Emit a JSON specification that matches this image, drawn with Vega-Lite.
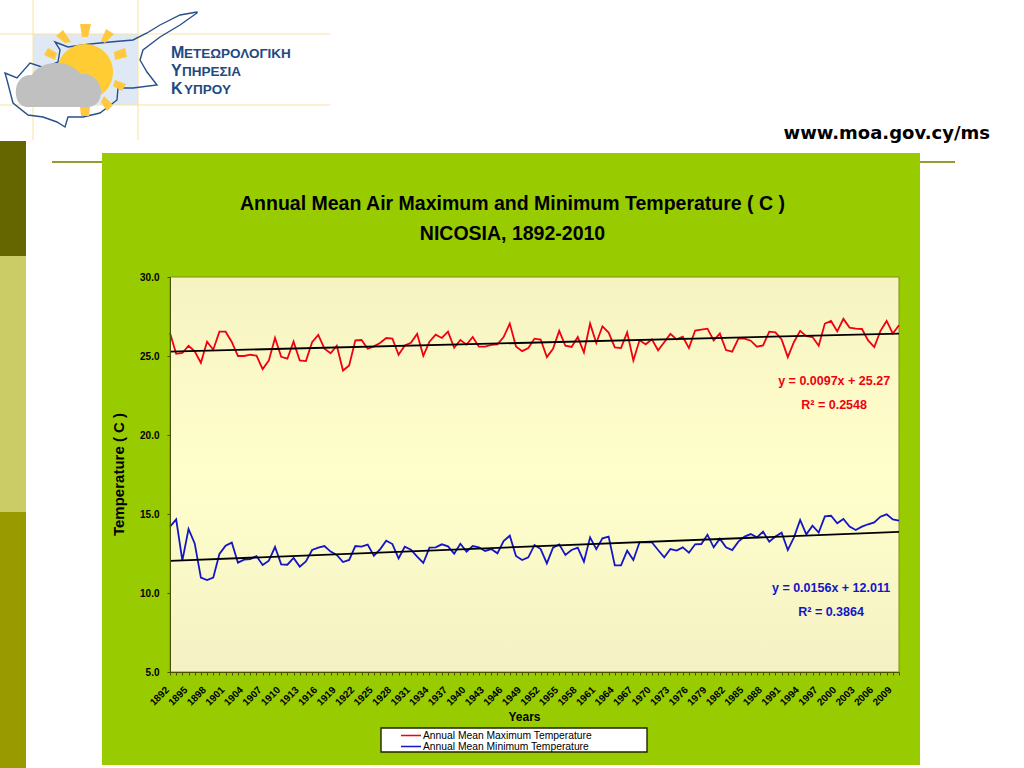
{
  "$schema": "https://vega.github.io/schema/vega-lite/v6.json",
  "width": 729,
  "height": 395,
  "autosize": {"type": "none"},
  "padding": {"left": 170, "top": 277, "right": 125, "bottom": 96},
  "background": "#ffffff",
  "view": {"stroke": null},
  "title": {
    "text": ["Annual Mean Air Maximum and  Minimum Temperature ( C )", "NICOSIA, 1892-2010"],
    "anchor": "middle",
    "frame": "group",
    "font": "Liberation Sans",
    "fontSize": 19.5,
    "fontWeight": "bold",
    "color": "#000000",
    "lineHeight": 30,
    "offset": -247,
    "dx": -22,
    "zindex": 1
  },
  "datasets": {
    "temps": [
      {"year":1892,"max":26.46,"min":14.2},{"year":1893,"max":25.14,"min":14.66},{"year":1894,"max":25.19,"min":12.05},{"year":1895,"max":25.65,"min":14.05},
      {"year":1896,"max":25.29,"min":13.14},{"year":1897,"max":24.57,"min":10.97},{"year":1898,"max":25.91,"min":10.82},{"year":1899,"max":25.4,"min":10.97},
      {"year":1900,"max":26.54,"min":12.47},{"year":1901,"max":26.54,"min":13.0},{"year":1902,"max":25.89,"min":13.19},{"year":1903,"max":25.0,"min":11.92},
      {"year":1904,"max":25.0,"min":12.11},{"year":1905,"max":25.08,"min":12.15},{"year":1906,"max":25.02,"min":12.34},{"year":1907,"max":24.17,"min":11.77},
      {"year":1908,"max":24.72,"min":12.05},{"year":1909,"max":26.14,"min":12.91},{"year":1910,"max":24.95,"min":11.81},{"year":1911,"max":24.83,"min":11.79},
      {"year":1912,"max":25.91,"min":12.22},{"year":1913,"max":24.72,"min":11.67},{"year":1914,"max":24.68,"min":12.0},{"year":1915,"max":25.87,"min":12.72},
      {"year":1916,"max":26.33,"min":12.87},{"year":1917,"max":25.46,"min":12.97},{"year":1918,"max":25.17,"min":12.62},{"year":1919,"max":25.65,"min":12.41},
      {"year":1920,"max":24.08,"min":11.96},{"year":1921,"max":24.4,"min":12.09},{"year":1922,"max":25.99,"min":12.97},{"year":1923,"max":26.01,"min":12.93},
      {"year":1924,"max":25.46,"min":13.06},{"year":1925,"max":25.61,"min":12.36},{"year":1926,"max":25.82,"min":12.76},{"year":1927,"max":26.14,"min":13.31},
      {"year":1928,"max":26.1,"min":13.1},{"year":1929,"max":25.08,"min":12.19},{"year":1930,"max":25.67,"min":12.93},{"year":1931,"max":25.84,"min":12.74},
      {"year":1932,"max":26.4,"min":12.3},{"year":1933,"max":25.01,"min":11.9},{"year":1934,"max":25.91,"min":12.87},{"year":1935,"max":26.35,"min":12.89},
      {"year":1936,"max":26.14,"min":13.08},{"year":1937,"max":26.54,"min":12.95},{"year":1938,"max":25.52,"min":12.49},{"year":1939,"max":26.01,"min":13.12},
      {"year":1940,"max":25.72,"min":12.62},{"year":1941,"max":26.2,"min":12.97},{"year":1942,"max":25.59,"min":12.89},{"year":1943,"max":25.59,"min":12.66},
      {"year":1944,"max":25.7,"min":12.78},{"year":1945,"max":25.74,"min":12.51},{"year":1946,"max":26.2,"min":13.29},{"year":1947,"max":27.05,"min":13.63},
      {"year":1948,"max":25.61,"min":12.34},{"year":1949,"max":25.31,"min":12.09},{"year":1950,"max":25.5,"min":12.26},{"year":1951,"max":26.1,"min":13.04},
      {"year":1952,"max":26.04,"min":12.78},{"year":1953,"max":24.93,"min":11.88},{"year":1954,"max":25.46,"min":12.87},{"year":1955,"max":26.59,"min":13.08},
      {"year":1956,"max":25.65,"min":12.41},{"year":1957,"max":25.57,"min":12.72},{"year":1958,"max":26.2,"min":12.87},{"year":1959,"max":25.23,"min":11.98},
      {"year":1960,"max":27.05,"min":13.52},{"year":1961,"max":25.82,"min":12.78},{"year":1962,"max":26.88,"min":13.46},{"year":1963,"max":26.48,"min":13.57},
      {"year":1964,"max":25.55,"min":11.75},{"year":1965,"max":25.5,"min":11.75},{"year":1966,"max":26.5,"min":12.68},{"year":1967,"max":24.72,"min":12.09},
      {"year":1968,"max":25.99,"min":13.21},{"year":1969,"max":25.74,"min":13.21},{"year":1970,"max":26.05,"min":13.21},{"year":1971,"max":25.36,"min":12.72},
      {"year":1972,"max":25.87,"min":12.26},{"year":1973,"max":26.4,"min":12.78},{"year":1974,"max":26.05,"min":12.68},{"year":1975,"max":26.22,"min":12.89},
      {"year":1976,"max":25.5,"min":12.55},{"year":1977,"max":26.61,"min":13.08},{"year":1978,"max":26.67,"min":13.1},{"year":1979,"max":26.73,"min":13.69},
      {"year":1980,"max":25.99,"min":12.89},{"year":1981,"max":26.42,"min":13.44},{"year":1982,"max":25.38,"min":12.89},{"year":1983,"max":25.27,"min":12.72},
      {"year":1984,"max":26.1,"min":13.25},{"year":1985,"max":26.1,"min":13.57},{"year":1986,"max":25.97,"min":13.73},{"year":1987,"max":25.59,"min":13.52},
      {"year":1988,"max":25.67,"min":13.88},{"year":1989,"max":26.54,"min":13.25},{"year":1990,"max":26.5,"min":13.57},{"year":1991,"max":26.05,"min":13.82},
      {"year":1992,"max":24.93,"min":12.72},{"year":1993,"max":25.89,"min":13.52},{"year":1994,"max":26.59,"min":14.62},{"year":1995,"max":26.25,"min":13.71},
      {"year":1996,"max":26.2,"min":14.26},{"year":1997,"max":25.65,"min":13.82},{"year":1998,"max":27.05,"min":14.85},{"year":1999,"max":27.22,"min":14.89},
      {"year":2000,"max":26.56,"min":14.41},{"year":2001,"max":27.35,"min":14.68},{"year":2002,"max":26.8,"min":14.2},{"year":2003,"max":26.73,"min":13.99},
      {"year":2004,"max":26.71,"min":14.2},{"year":2005,"max":25.99,"min":14.35},{"year":2006,"max":25.57,"min":14.47},{"year":2007,"max":26.59,"min":14.83},
      {"year":2008,"max":27.22,"min":14.98},{"year":2009,"max":26.42,"min":14.66},{"year":2010,"max":26.95,"min":14.58}
    ],
    "trend": [
      {"year":1892,"max":25.28,"min":12.03},
      {"year":2010,"max":26.42,"min":13.87}
    ],
    "one": [{}]
  },
  "layer": [
    {
      "data": {"name": "one"},
      "encoding": {
        "x": {"datum": 1864.483, "scale": {"domain": [1892, 2010], "nice": false, "zero": false}},
        "y": {"datum": 47.532, "scale": {"domain": [5, 30], "nice": false, "zero": false}}
      },
      "layer": [
        {"mark": {"type": "point", "size": 4, "filled": true, "opacity": 1, "color": "#666600", "shape": "M0 141H26V256H0Z"}},
        {"mark": {"type": "point", "size": 4, "filled": true, "opacity": 1, "color": "#CCCC66", "shape": "M0 256H26V512H0Z"}},
        {"mark": {"type": "point", "size": 4, "filled": true, "opacity": 1, "color": "#999900", "shape": "M0 512H26V768H0Z"}},
        {"mark": {"type": "point", "size": 4, "filled": true, "opacity": 1, "color": "#999933", "shape": "M52 161H955V163H52Z"}},
        {"mark": {"type": "point", "size": 4, "filled": true, "opacity": 1, "color": "#99CC00", "shape": "M102 153H920V765H102Z"}},
        {"mark": {"type": "point", "size": 4, "filled": true, "opacity": 1, "color": "#DFE8F5", "shape": "M33 34H138V105H33Z"}},
        {"mark": {"type": "point", "size": 4, "filled": false, "opacity": 1, "color": "#F9E3A0", "strokeWidth": 1, "shape": "M0 34H330M0 105H330M33 0V140M138 0V140"}},
        {"mark": {"type": "point", "size": 4, "filled": false, "opacity": 1, "color": "#27508C", "strokeWidth": 1.4, "shape": "M197 12L180 15L160 25L147 33L133 40L110 42L90 44L68 47L55 42L60 50L58 62L45 68L30 63L17 78L5 73L7 80L13 103L28 115L43 117L57 122L65 127L68 117L83 117L100 113L117 100L118 88L133 88L157 85L147 72L140 60L143 50L160 37L180 25L197 13Z"}},
        {"mark": {"type": "point", "size": 4, "filled": true, "opacity": 1, "color": "#FFCC33", "shape": "M57 72A28 28 0 1 1 113 72A28 28 0 1 1 57 72Z"}},
        {"mark": {"type": "point", "size": 4, "filled": true, "opacity": 1, "color": "#FFC840", "shape": "M80 24L91 24L88 37L82 37ZM106 29L114 34L105 43L101 41ZM114 52L125 48L127 57L115 60ZM115 80L126 84L122 91L113 86ZM104 96L113 105L107 111L101 102ZM80 107L90 107L89 116L81 116ZM63 30L71 42L65 43L56 36ZM48 48L57 53L55 60L44 55Z"}},
        {"mark": {"type": "point", "size": 4, "filled": true, "opacity": 1, "color": "#C0C0C0", "shape": "M28 107C18 107 15 97 16 89C17 80 24 74 32 75C35 68 47 62 58 63C68 63 76 68 80 74C90 72 100 80 101 90C102 100 96 107 88 107Z"}},
        {"mark": {"type": "point", "size": 4, "filled": true, "opacity": 1, "color": "#FFFFFF", "stroke": "#222200", "strokeWidth": 1.4, "shape": "M381 728H647V752H381Z"}}
      ]
    },
    {
      "data": {"name": "one"},
      "mark": {"type": "rect", "stroke": "#7F8F10", "strokeWidth": 1, "fill": {
        "x1": 0, "y1": 0, "x2": 0, "y2": 1, "gradient": "linear",
        "stops": [{"offset": 0, "color": "#F6F3C2"}, {"offset": 0.5, "color": "#FFFFCC"}, {"offset": 1, "color": "#F4F1C4"}]
      }},
      "encoding": {
        "x": {"datum": 1892, "scale": {"domain": [1892, 2010], "nice": false, "zero": false}},
        "x2": {"datum": 2010},
        "y": {"datum": 5, "scale": {"domain": [5, 30], "nice": false, "zero": false}},
        "y2": {"datum": 30}
      }
    },
    {
      "data": {"name": "temps"},
      "encoding": {
        "x": {
          "field": "year",
          "type": "quantitative",
          "title": "Years",
          "scale": {"domain": [1892, 2010], "nice": false, "zero": false},
          "axis": {
            "zindex": 1,
            "grid": false,
            "tickCount": 118,
            "format": "d",
            "labelExpr": "(datum.value - 1892) % 3 == 0 ? datum.value : ''",
            "labelOverlap": false,
            "labelBound": false,
            "labelFlush": false,
            "labelAngle": -45,
            "labelAlign": "right",
            "labelBaseline": "middle",
            "labelPadding": 13,
            "labelOffset": -3,
            "labelFont": "Liberation Sans",
            "labelFontSize": 10,
            "labelFontWeight": "bold",
            "labelColor": "#000000",
            "tickColor": "#4A5000",
            "tickSize": 3,
            "domainColor": "#4A5000",
            "titleFont": "Liberation Sans",
            "titleFontSize": 12,
            "titleFontWeight": "bold",
            "titleColor": "#000000",
            "titleX": 354,
            "titleY": 39
          }
        }
      },
      "layer": [
        {
          "mark": {"type": "line", "strokeWidth": 1.8},
          "encoding": {
            "y": {
              "field": "max",
              "type": "quantitative",
              "title": "Temperature ( C )",
              "scale": {"domain": [5, 30], "nice": false, "zero": false},
              "axis": {
                "zindex": 1,
                "grid": false,
                "values": [5, 10, 15, 20, 25, 30],
                "format": ".1f",
                "labelFont": "Liberation Sans",
                "labelFontSize": 10,
                "labelFontWeight": "bold",
                "labelColor": "#000000",
                "labelPadding": 8,
                "tickColor": "#4A5000",
                "tickSize": 3,
                "domainColor": "#4A5000",
                "titleFont": "Liberation Sans",
                "titleFontSize": 15,
                "titleFontWeight": "bold",
                "titleColor": "#000000",
                "titleX": -44,
                "titleY": 197
              }
            },
            "color": {
              "datum": "Annual Mean  Maximum Temperature",
              "scale": {
                "domain": ["Annual Mean  Maximum Temperature", "Annual Mean  Minimum Temperature"],
                "range": ["#F00010", "#1414C8"]
              },
              "legend": {
                "orient": "none",
                "legendX": 230,
                "legendY": 453,
                "title": null,
                "zindex": 1,
                "symbolType": "stroke",
                "symbolSize": 400,
                "symbolStrokeWidth": 1.6,
                "rowPadding": 0,
                "clipHeight": 11,
                "labelOffset": 1,
                "labelFont": "Liberation Sans",
                "labelFontSize": 10.3,
                "labelColor": "#000000",
                "labelLimit": 0,
                "padding": 0
              }
            }
          }
        },
        {
          "mark": {"type": "line", "strokeWidth": 1.8},
          "encoding": {
            "y": {"field": "min", "type": "quantitative", "scale": {"domain": [5, 30], "nice": false, "zero": false}},
            "color": {"datum": "Annual Mean  Minimum Temperature"}
          }
        }
      ]
    },
    {
      "data": {"name": "trend"},
      "encoding": {
        "x": {"field": "year", "type": "quantitative", "scale": {"domain": [1892, 2010], "nice": false, "zero": false}}
      },
      "layer": [
        {
          "mark": {"type": "line", "color": "#000000", "strokeWidth": 1.8},
          "encoding": {"y": {"field": "max", "type": "quantitative", "scale": {"domain": [5, 30], "nice": false, "zero": false}}}
        },
        {
          "mark": {"type": "line", "color": "#000000", "strokeWidth": 1.8},
          "encoding": {"y": {"field": "min", "type": "quantitative", "scale": {"domain": [5, 30], "nice": false, "zero": false}}}
        }
      ]
    },
    {
      "data": {"name": "one"},
      "layer": [
        {
          "mark": {"type": "text", "text": "y = 0.0097x + 25.27", "font": "Liberation Sans", "fontSize": 12.5, "fontWeight": "bold", "color": "#F00010"},
          "encoding": {"x": {"datum": 1999.5, "scale": {"domain": [1892, 2010], "nice": false, "zero": false}}, "y": {"datum": 23.42, "scale": {"domain": [5, 30], "nice": false, "zero": false}}}
        },
        {
          "mark": {"type": "text", "text": "R² = 0.2548", "font": "Liberation Sans", "fontSize": 12.5, "fontWeight": "bold", "color": "#F00010"},
          "encoding": {"x": {"datum": 1999.5, "scale": {"domain": [1892, 2010], "nice": false, "zero": false}}, "y": {"datum": 21.9, "scale": {"domain": [5, 30], "nice": false, "zero": false}}}
        },
        {
          "mark": {"type": "text", "text": "y = 0.0156x + 12.011", "font": "Liberation Sans", "fontSize": 12.5, "fontWeight": "bold", "color": "#1414C8"},
          "encoding": {"x": {"datum": 1999, "scale": {"domain": [1892, 2010], "nice": false, "zero": false}}, "y": {"datum": 10.32, "scale": {"domain": [5, 30], "nice": false, "zero": false}}}
        },
        {
          "mark": {"type": "text", "text": "R² = 0.3864", "font": "Liberation Sans", "fontSize": 12.5, "fontWeight": "bold", "color": "#1414C8"},
          "encoding": {"x": {"datum": 1999, "scale": {"domain": [1892, 2010], "nice": false, "zero": false}}, "y": {"datum": 8.8, "scale": {"domain": [5, 30], "nice": false, "zero": false}}}
        },
        {
          "mark": {"type": "text", "text": "www.moa.gov.cy/ms", "align": "right", "baseline": "alphabetic", "font": "DejaVu Sans", "fontSize": 18, "fontWeight": "bold", "color": "#000000"},
          "encoding": {"x": {"datum": 2024.73, "scale": {"domain": [1892, 2010], "nice": false, "zero": false}}, "y": {"datum": 38.73, "scale": {"domain": [5, 30], "nice": false, "zero": false}}}
        },
        {
          "mark": {"type": "text", "text": "Μ", "align": "left", "baseline": "alphabetic", "font": "Liberation Sans", "fontSize": 16, "fontWeight": "bold", "color": "#1E4A82"},
          "encoding": {"x": {"datum": 1892.16, "scale": {"domain": [1892, 2010], "nice": false, "zero": false}}, "y": {"datum": 43.86, "scale": {"domain": [5, 30], "nice": false, "zero": false}}}
        },
        {
          "mark": {"type": "text", "text": "ΕΤΕΩΡΟΛΟΓΙΚΗ", "align": "left", "baseline": "alphabetic", "font": "Liberation Sans", "fontSize": 13.5, "fontWeight": "bold", "color": "#1E4A82"},
          "encoding": {"x": {"datum": 1894.27, "scale": {"domain": [1892, 2010], "nice": false, "zero": false}}, "y": {"datum": 43.86, "scale": {"domain": [5, 30], "nice": false, "zero": false}}}
        },
        {
          "mark": {"type": "text", "text": "Υ", "align": "left", "baseline": "alphabetic", "font": "Liberation Sans", "fontSize": 16, "fontWeight": "bold", "color": "#1E4A82"},
          "encoding": {"x": {"datum": 1892.16, "scale": {"domain": [1892, 2010], "nice": false, "zero": false}}, "y": {"datum": 42.72, "scale": {"domain": [5, 30], "nice": false, "zero": false}}}
        },
        {
          "mark": {"type": "text", "text": "ΠΗΡΕΣΙΑ", "align": "left", "baseline": "alphabetic", "font": "Liberation Sans", "fontSize": 13.5, "fontWeight": "bold", "color": "#1E4A82"},
          "encoding": {"x": {"datum": 1893.94, "scale": {"domain": [1892, 2010], "nice": false, "zero": false}}, "y": {"datum": 42.72, "scale": {"domain": [5, 30], "nice": false, "zero": false}}}
        },
        {
          "mark": {"type": "text", "text": "Κ", "align": "left", "baseline": "alphabetic", "font": "Liberation Sans", "fontSize": 16, "fontWeight": "bold", "color": "#1E4A82"},
          "encoding": {"x": {"datum": 1892.16, "scale": {"domain": [1892, 2010], "nice": false, "zero": false}}, "y": {"datum": 41.58, "scale": {"domain": [5, 30], "nice": false, "zero": false}}}
        },
        {
          "mark": {"type": "text", "text": "ΥΠΡΟΥ", "align": "left", "baseline": "alphabetic", "font": "Liberation Sans", "fontSize": 13.5, "fontWeight": "bold", "color": "#1E4A82"},
          "encoding": {"x": {"datum": 1894.27, "scale": {"domain": [1892, 2010], "nice": false, "zero": false}}, "y": {"datum": 41.58, "scale": {"domain": [5, 30], "nice": false, "zero": false}}}
        }
      ]
    }
  ]
}
